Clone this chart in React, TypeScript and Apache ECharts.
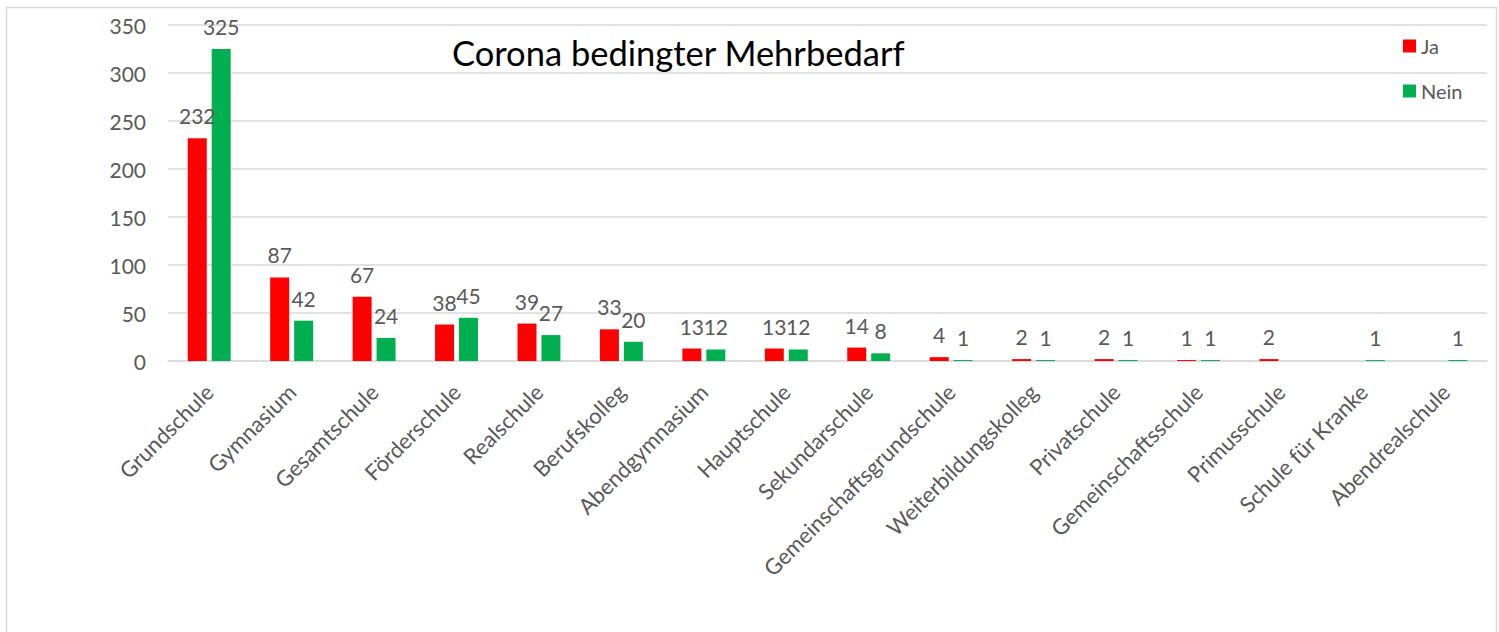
import React, { useEffect, useRef } from "react";
import * as echarts from "echarts";

const categories = [
  "Grundschule", "Gymnasium", "Gesamtschule", "Förderschule", "Realschule",
  "Berufskolleg", "Abendgymnasium", "Hauptschule", "Sekundarschule",
  "Gemeinschaftsgrundschule", "Weiterbildungskolleg", "Privatschule",
  "Gemeinschaftsschule", "Primusschule", "Schule für Kranke", "Abendrealschule",
];
const jaValues = [232, 87, 67, 38, 39, 33, 13, 13, 14, 4, 2, 2, 1, 2, null, null];
const neinValues = [325, 42, 24, 45, 27, 20, 12, 12, 8, 1, 1, 1, 1, null, 1, 1];
const yTicks = { min: 0, max: 350, interval: 50 };

const FONT = "Lato, 'Open Sans', sans-serif";
const GREY = "#595959";

export default function App() {
  const ref = useRef<HTMLDivElement>(null);
  useEffect(() => {
    document.body.style.margin = "0";
    const chart = echarts.init(ref.current!, null, { renderer: "svg" });
    const label = {
      show: true,
      position: "top",
      distance: 12,
      color: GREY,
      fontSize: 21,
      fontFamily: FONT,
    };
    chart.setOption({
      animation: false,
      backgroundColor: "#fff",
      title: {
        text: "Corona bedingter Mehrbedarf",
        left: 447,
        top: 30,
        textStyle: { fontSize: 34.5, fontWeight: "normal", color: "#000", fontFamily: FONT },
      },
      legend: {
        orient: "vertical",
        left: 1398,
        top: 31,
        itemWidth: 13,
        itemHeight: 13,
        itemGap: 25,
        icon: "rect",
        textStyle: { fontSize: 20, color: GREY, fontFamily: FONT },
        data: ["Ja", "Nein"],
      },
      grid: { left: 168, right: 12, top: 25, bottom: 271, containLabel: false },
      xAxis: {
        type: "category",
        data: categories,
        axisLine: { show: true, lineStyle: { color: "#d9d9d9", width: 1.5 } },
        axisTick: { show: false },
        axisLabel: {
          interval: 0,
          rotate: 45,
          margin: 27,
          fontSize: 22,
          color: GREY,
          fontFamily: FONT,
        },
      },
      yAxis: {
        type: "value",
        min: yTicks.min,
        max: yTicks.max,
        interval: yTicks.interval,
        axisLine: { show: false },
        axisTick: { show: false },
        splitLine: { lineStyle: { color: "#d9d9d9", width: 1.5 } },
        axisLabel: { fontSize: 21, color: GREY, margin: 22, fontFamily: FONT },
      },
      series: [
        {
          name: "Ja",
          type: "bar",
          data: jaValues,
          barWidth: 19,
          barGap: "26%",
          itemStyle: { color: "#ff0000" },
          label,
        },
        {
          name: "Nein",
          type: "bar",
          data: neinValues,
          barWidth: 19,
          itemStyle: { color: "#00b050" },
          label,
        },
      ],
      graphic: [
        {
          type: "rect",
          shape: { x: 6.5, y: 7.5, width: 1490, height: 640 },
          style: { fill: "none", stroke: "#d9d9d9", lineWidth: 1.5 },
          silent: true,
          z: -1,
        },
      ],
    });
    return () => chart.dispose();
  }, []);
  return <div ref={ref} style={{ width: 1499, height: 632 }} />;
}
